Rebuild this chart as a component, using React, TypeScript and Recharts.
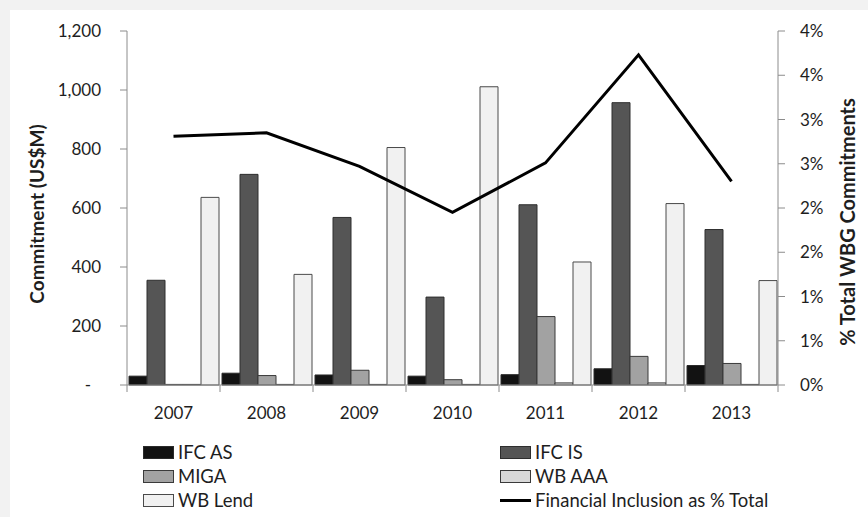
import React from "react"
import {
  ComposedChart,
  Bar,
  Line,
  XAxis,
  YAxis,
} from "recharts"

const years = ["2007", "2008", "2009", "2010", "2011", "2012", "2013"]
const ifcAs = [30, 40, 34, 30, 35, 55, 66]
const ifcIs = [355, 714, 568, 298, 611, 957, 527]
const miga = [2, 32, 50, 18, 232, 97, 73]
const wbAaa = [2, 2, 2, 2, 7, 7, 2]
const wbLend = [636, 375, 805, 1011, 417, 615, 354]
// % of total WBG commitments
const inclusionPct = [2.81, 2.85, 2.47, 1.95, 2.51, 3.73, 2.3]

const leftTicks = [0, 200, 400, 600, 800, 1000, 1200]
const rightTicks = [0, 0.5, 1, 1.5, 2, 2.5, 3, 3.5, 4]

const data = years.map((year, i) => ({
  year,
  ifcAs: ifcAs[i],
  ifcIs: ifcIs[i],
  miga: miga[i],
  wbAaa: wbAaa[i],
  wbLend: wbLend[i],
  pct: inclusionPct[i],
}))

const FONT = "Lato, 'Open Sans', sans-serif"
const TEXT = "#1e1e1e"
const AXIS = "#8c8c8c"
const BAND = 651 / 7

const barSeries = [
  { key: "ifcAs", name: "IFC AS", fill: "#121212", stroke: "#2a2a2a" },
  { key: "ifcIs", name: "IFC IS", fill: "#555555", stroke: "#2e2e2e" },
  { key: "miga", name: "MIGA", fill: "#a2a2a2", stroke: "#3a3a3a" },
  { key: "wbAaa", name: "WB AAA", fill: "#d8d8d8", stroke: "#3a3a3a" },
  { key: "wbLend", name: "WB Lend", fill: "#f1f1f1", stroke: "#4a4a4a" },
]

const YearTick = (props: any) => {
  const { x, y, payload, index } = props
  return (
    <g>
      <line x1={x - BAND / 2} x2={x - BAND / 2} y1={y} y2={y + 7} stroke={AXIS} />
      {index === years.length - 1 && (
        <line x1={x + BAND / 2} x2={x + BAND / 2} y1={y} y2={y + 7} stroke={AXIS} />
      )}
      <text x={x} y={y + 34} textAnchor="middle" fontFamily={FONT} fontSize={17} fill={TEXT}>
        {payload.value}
      </text>
    </g>
  )
}

const LeftTick = (props: any) => {
  const { x, y, payload } = props
  const v = payload.value
  return (
    <text
      x={v === 0 ? x - 10 : x}
      y={y}
      dy="0.36em"
      textAnchor="end"
      fontFamily={FONT}
      fontSize={17}
      fill={TEXT}
    >
      {v === 0 ? "-" : v.toLocaleString("en-US")}
    </text>
  )
}

const RightTick = (props: any) => {
  const { x, y, payload } = props
  return (
    <text x={x} y={y} dy="0.36em" textAnchor="start" fontFamily={FONT} fontSize={17} fill={TEXT}>
      {Math.round(payload.value) + "%"}
    </text>
  )
}

const LeftTitle = () => (
  <text
    transform="translate(36,214) rotate(-90)"
    textAnchor="middle"
    dominantBaseline="central"
    fontFamily={FONT}
    fontWeight={700}
    fontSize={19}
    fill={TEXT}
  >
    Commitment (US$M)
  </text>
)

const RightTitle = () => (
  <text
    transform="translate(847,222) rotate(-90)"
    textAnchor="middle"
    dominantBaseline="central"
    fontFamily={FONT}
    fontWeight={700}
    fontSize={20}
    fill={TEXT}
  >
    % Total WBG Commitments
  </text>
)

const legendItems = [
  { ...barSeries[0], type: "bar" },
  { ...barSeries[1], type: "bar" },
  { ...barSeries[2], type: "bar" },
  { ...barSeries[3], type: "bar" },
  { ...barSeries[4], type: "bar" },
  { key: "pct", name: "Financial Inclusion as % Total", fill: "#000", stroke: "#000", type: "line" },
]

function ChartLegend() {
  return (
    <div
      style={{
        position: "absolute",
        left: 143,
        top: 440,
        display: "grid",
        gridTemplateColumns: "357px 340px",
        gridAutoRows: "24px",
        fontFamily: FONT,
        fontSize: 18.5,
        color: TEXT,
      }}
    >
      {legendItems.map((it) => (
        <div key={it.key} style={{ display: "flex", alignItems: "center", whiteSpace: "nowrap" }}>
          {it.type === "bar" ? (
            <span
              style={{
                width: 29,
                height: 11,
                background: it.fill,
                border: `1px solid ${it.stroke}`,
                marginRight: 4,
              }}
            />
          ) : (
            <span style={{ width: 31, height: 3, background: "#000", marginRight: 4 }} />
          )}
          {it.name}
        </div>
      ))}
    </div>
  )
}

export default function App() {
  return (
    <div
      style={{
        position: "absolute",
        left: 0,
        top: 0,
        width: 868,
        height: 517,
        background: "#f2f2f2",
        overflow: "hidden",
      }}
    >
      <div
        style={{ position: "absolute", left: 10, top: 10, width: 858, height: 507, background: "#fff" }}
      />
      <ComposedChart
        width={868}
        height={517}
        data={data}
        margin={{ top: 31, right: 10, bottom: 92, left: 10 }}
        barCategoryGap={2}
        barGap={0}
        style={{ position: "absolute", left: 0, top: 0 }}
      >
        <XAxis
          dataKey="year"
          height={40}
          tickLine={false}
          tickSize={0}
          tickMargin={0}
          axisLine={{ stroke: AXIS }}
          tick={<YearTick />}
          interval={0}
        />
        <YAxis
          yAxisId="left"
          width={117}
          domain={[0, 1200]}
          ticks={leftTicks}
          tickSize={7}
          tickMargin={19}
          axisLine={{ stroke: AXIS }}
          tickLine={{ stroke: AXIS }}
          tick={<LeftTick />}
          label={<LeftTitle />}
          interval={0}
        />
        <YAxis
          yAxisId="right"
          orientation="right"
          width={80}
          domain={[0, 4]}
          ticks={rightTicks}
          tickSize={7}
          tickMargin={15}
          axisLine={{ stroke: AXIS }}
          tickLine={{ stroke: AXIS }}
          tick={<RightTick />}
          label={<RightTitle />}
          interval={0}
        />
        {barSeries.map((s) => (
          <Bar
            key={s.key}
            yAxisId="left"
            dataKey={s.key}
            name={s.name}
            fill={s.fill}
            stroke={s.stroke}
            strokeWidth={1}
            isAnimationActive={false}
          />
        ))}
        <Line
          yAxisId="right"
          type="linear"
          dataKey="pct"
          name="Financial Inclusion as % Total"
          stroke="#000"
          strokeWidth={3}
          dot={false}
          activeDot={false}
          isAnimationActive={false}
        />
      </ComposedChart>
      <ChartLegend />
    </div>
  )
}
